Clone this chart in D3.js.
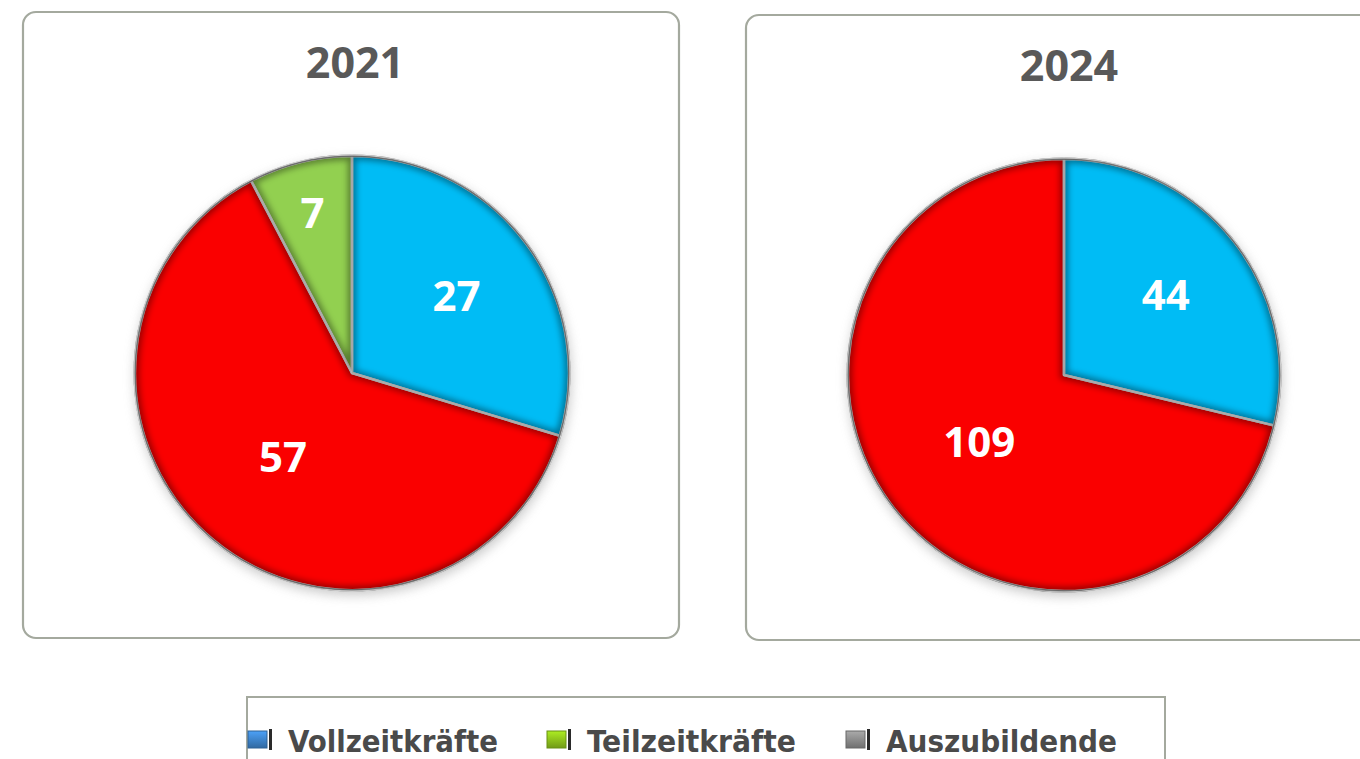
<!DOCTYPE html>
<html><head><meta charset="utf-8">
<script src="https://cdn.jsdelivr.net/npm/d3@7"></script>
<style>html,body{margin:0;padding:0;background:#fff;overflow:hidden}</style>
</head><body>
<svg id="c" width="1360" height="759"></svg>
<script>
const years = ["2021", "2024"];
const categories = ["Vollzeitkräfte", "Auszubildende", "Teilzeitkräfte"];
const values2021 = [27, 57, 7];
const values2024 = [44, 109, 0];
const sliceColors = ["#00BCF5", "#FA0000", "#92D050"];
const legendLabels = ["Vollzeitkräfte", "Teilzeitkräfte", "Auszubildende"];
const legendColors = ["#3d82c8", "#8cbf1c", "#8a8a8a"];

const svg = d3.select("#c");
const defs = svg.append("defs");
defs.append("filter").attr("id","blur3").attr("x","-20%").attr("y","-20%").attr("width","140%").attr("height","140%")
  .append("feGaussianBlur").attr("stdDeviation",3);
defs.append("filter").attr("id","blur6").attr("x","-20%").attr("y","-20%").attr("width","140%").attr("height","140%")
  .append("feGaussianBlur").attr("stdDeviation",6);

const panels = [
  {x:23, y:12, w:656, h:626, tx:355, cx:352, cy:373, r:217, title:years[0], values:values2021},
  {x:746, y:15, w:660, h:625, tx:1069, cx:1064, cy:375, r:216, title:years[1], values:values2024}
];

const pie = d3.pie().sort(null).value(d => d);

panels.forEach((p, pi) => {
  svg.append("rect").attr("x",p.x).attr("y",p.y).attr("width",p.w).attr("height",p.h)
    .attr("rx",13).attr("fill","#fff").attr("stroke","#a4a99e").attr("stroke-width",2.2);
  svg.append("text").attr("x",p.tx).attr("y",p.y+66)
    .attr("text-anchor","middle").attr("font-family","Open Sans, sans-serif").attr("font-weight",700)
    .attr("font-size",43).attr("fill","#595959").text(p.title);

  const g = svg.append("g").attr("transform",`translate(${p.cx},${p.cy})`);
  g.append("circle").attr("cx",1).attr("cy",4).attr("r",p.r+1).attr("fill","#9a9a9a").attr("opacity",0.55).attr("filter","url(#blur6)");
  g.append("circle").attr("r",p.r+1.5).attr("fill","#7d7d7d");

  const arcs = pie(p.values);
  const arc = d3.arc().innerRadius(0).outerRadius(p.r);
  const total = d3.sum(p.values);
  arcs.forEach((a, i) => {
    if (a.value === 0) return;
    const cid = `clip${pi}_${i}`;
    defs.append("clipPath").attr("id",cid).append("path").attr("d",arc(a)).attr("transform",`translate(${p.cx},${p.cy})`);
    g.append("path").attr("d",arc(a)).attr("fill",sliceColors[i]);
    const sg = svg.append("g").attr("clip-path",`url(#${cid})`);
    sg.append("path").attr("d",arc(a)).attr("transform",`translate(${p.cx},${p.cy})`)
      .attr("fill","none").attr("stroke","rgba(0,0,0,0.4)").attr("stroke-width",8).attr("filter","url(#blur3)");
  });
  arcs.forEach((a, i) => {
    if (a.value === 0) return;
    g.append("path").attr("d",arc(a)).attr("fill","none").attr("stroke","#f4f4f4").attr("stroke-width",2.5).attr("stroke-linejoin","round")
      .attr("opacity",0.95);
  });
  g.append("circle").attr("r",p.r).attr("fill","none").attr("stroke","#8a8a8a").attr("stroke-width",1.5);

  arcs.forEach((a, i) => {
    if (a.value === 0) return;
    const share = a.value / total;
    const frac = share < 0.1 ? 0.76 : (share > 0.5 ? 0.5 : 0.6);
    const la = d3.arc().innerRadius(p.r*frac).outerRadius(p.r*frac);
    const [lx, ly] = la.centroid(a);
    g.append("text").attr("x",lx).attr("y",ly).attr("dy","0.36em").attr("text-anchor","middle")
      .attr("font-family","Open Sans, sans-serif").attr("font-weight",700).attr("font-size",42)
      .attr("fill","#fff").text(a.value);
  });
});

// legend
svg.append("rect").attr("x",247).attr("y",697).attr("width",918).attr("height",100)
  .attr("fill","#fff").attr("stroke","#a4a99e").attr("stroke-width",2);
const legX = [248, 547, 846];
const legTextX = [288, 587, 886];
const legW = [210, 209, 231];
legendLabels.forEach((l, i) => {
  const gr = defs.append("linearGradient").attr("id","lg"+i).attr("x1",0).attr("y1",0).attr("x2",0).attr("y2",1);
  gr.append("stop").attr("offset","0%").attr("stop-color",d3.color(legendColors[i]).brighter(0.6));
  gr.append("stop").attr("offset","100%").attr("stop-color",d3.color(legendColors[i]).darker(0.6));
  svg.append("rect").attr("x",legX[i]).attr("y",731).attr("width",19).attr("height",17).attr("fill",`url(#lg${i})`)
    .attr("stroke",d3.color(legendColors[i]).darker(0.8)).attr("stroke-width",1);
  svg.append("rect").attr("x",legX[i]+21).attr("y",729).attr("width",3).attr("height",21).attr("fill","#2a2a2a");
  svg.append("text").attr("x",legTextX[i]).attr("y",752).attr("font-family","DejaVu Sans Condensed, DejaVu Sans, sans-serif")
    .attr("font-weight",700).attr("font-size",30).attr("fill","#4a4a4a").attr("textLength",legW[i]).attr("lengthAdjust","spacingAndGlyphs").text(l);
});
</script>
</body></html>
